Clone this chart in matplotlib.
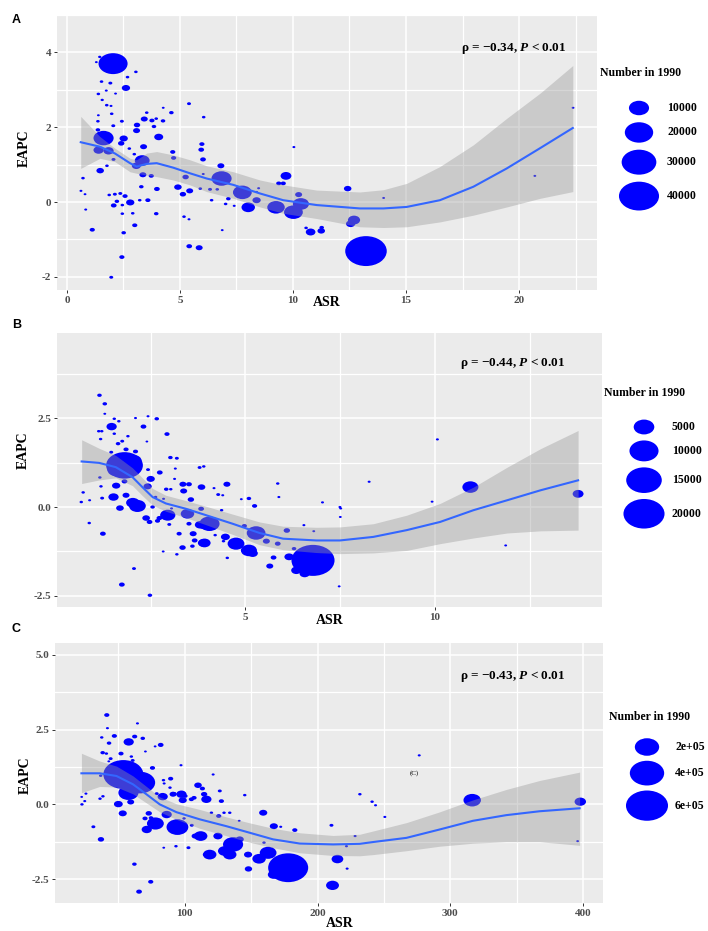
import numpy as np
import matplotlib
matplotlib.use("Agg")
import matplotlib.pyplot as plt
from matplotlib.path import Path
from matplotlib.transforms import Affine2D

plt.rcParams['mathtext.fontset'] = 'custom'
plt.rcParams['mathtext.it'] = 'Liberation Serif:bold:italic'
plt.rcParams['mathtext.rm'] = 'Liberation Serif:bold'

# ---------------- Panel A data ----------------
a_asr = [2.04,1.45,1.30,3.05,2.68,1.53,1.92,2.61,1.74,1.39,
         2.15,1.56,1.76,1.95,5.40,4.26,1.39,1.98,3.53,4.62,
         6.05,1.37,2.43,3.42,3.76,3.95,4.25,3.10,2.05,1.37,
         3.08,3.85,4.06,1.62,2.51,2.40,3.39,2.76,1.40,1.84,
         4.68,5.97,5.94,6.02,2.06,2.98,3.33,3.07,4.72,1.47,
         1.77,3.36,3.73,5.25,0.71,0.62,0.80,3.29,3.98,4.91,
         5.13,5.43,5.90,1.87,2.12,2.36,2.57,2.21,2.80,3.22,
         3.58,2.45,2.07,0.83,2.91,3.95,2.45,3.00,5.18,5.40,
         1.12,2.51,5.41,5.85,2.43,1.96,10.04,6.81,6.84,7.76,
         8.39,8.02,7.14,6.40,9.69,9.37,9.57,9.25,10.02,10.35,
         10.25,12.42,10.78,11.25,11.27,6.87,12.70,12.55,13.23,14.01,
         20.7,22.39,7.02,7.40,6.33,6.65,8.48,8.39,10.58,6.03]
a_eapc = [3.70,3.88,3.74,3.48,3.34,3.22,3.18,3.05,2.98,2.89,
          2.90,2.73,2.59,2.57,2.63,2.52,2.32,2.36,2.39,2.39,
          2.27,2.16,2.16,2.22,2.18,2.23,2.17,2.06,2.04,1.93,
          1.91,2.02,1.74,1.71,1.70,1.57,1.48,1.43,1.39,1.37,
          1.34,1.55,1.40,1.14,1.14,1.28,1.11,0.97,1.18,0.84,
          0.97,0.73,0.70,0.67,0.64,0.30,0.21,0.41,0.35,0.40,
          0.21,0.30,0.36,0.19,0.21,0.23,0.16,0.02,-0.01,0.05,
          0.05,-0.08,-0.09,-0.20,-0.30,-0.31,-0.31,-0.62,-0.39,-0.46,
          -0.74,-0.82,-1.18,-1.22,-1.47,-2.01,1.47,0.97,0.63,0.26,
          0.05,-0.14,0.09,0.05,0.70,0.50,0.50,-0.14,-0.27,-0.05,
          0.20,0.36,-0.80,-0.77,-0.68,-0.75,-0.48,-0.58,-1.31,0.11,
          0.70,2.52,-0.05,-0.10,0.34,0.34,0.37,0.27,-0.69,0.75]
a_num = [21000,150,80,200,200,200,280,1600,100,200,
         80,150,200,100,280,80,80,200,200,400,
         200,200,280,1100,550,200,400,900,280,400,
         1100,400,1900,10000,1600,900,1100,200,2500,2500,
         550,550,700,700,280,200,5400,1900,550,1300,
         200,1100,550,900,200,100,80,400,700,1300,
         900,1100,200,200,280,280,550,400,1600,200,
         550,200,700,100,200,400,200,550,200,100,
         550,400,700,1100,550,280,100,1100,10000,8700,
         1600,4400,400,200,2800,550,550,7500,8700,6400,
         1100,1300,2200,1300,400,80,3600,2000,43000,80,
         80,80,200,100,280,200,100,100,200,100]
a_fit_x = [0.61,1.46,2.12,2.79,3.08,3.53,3.97,4.70,5.44,6.18,7.36,8.54,9.57,11.05,12.96,14.0,15.03,16.5,17.98,19.46,20.93,22.38]
a_fit = [1.60,1.48,1.30,1.04,0.95,1.02,1.04,0.92,0.77,0.63,0.46,0.23,0.05,-0.08,-0.17,-0.17,-0.13,0.05,0.41,0.90,1.44,1.98]
a_hi = [2.29,1.75,1.44,1.17,1.13,1.31,1.35,1.26,1.13,0.97,0.81,0.59,0.46,0.32,0.27,0.33,0.50,0.95,1.53,2.24,2.91,3.65]
a_lo = [0.90,1.17,1.08,0.81,0.77,0.72,0.68,0.59,0.46,0.28,0.10,-0.13,-0.30,-0.44,-0.66,-0.68,-0.66,-0.53,-0.35,-0.13,0.10,0.28]
a_legend_vals = [10000, 20000, 30000, 40000]
a_legend_labels = ["10000", "20000", "30000", "40000"]
a_xticks = [0, 5, 10, 15, 20]
a_yticks = [-2, 0, 2, 4]
a_ylabels = ["-2", "0", "2", "4"]
a_text = "ρ = −0.34, $P$ < 0.01"

# ---------------- Panel B data ----------------
b_asr = [1.15,1.29,1.29,1.54,1.66,2.10,2.43,2.66,1.47,2.31,
         1.13,1.21,1.54,1.90,1.18,2.93,1.75,1.64,2.40,1.85,
         2.10,1.46,1.81,1.60,2.05,3.02,3.19,3.79,3.90,3.15,
         2.43,2.74,2.50,1.16,3.13,1.81,2.42,1.59,1.19,2.91,
         3.03,3.35,3.51,3.84,3.37,0.72,0.67,0.89,1.22,1.52,
         1.85,2.03,2.15,2.63,2.84,1.69,2.55,3.56,3.05,2.95,
         3.47,2.73,2.38,2.47,2.99,2.68,3.88,3.51,0.88,1.24,
         3.25,3.62,3.66,3.88,3.60,3.34,3.19,2.83,2.06,1.74,
         2.48,4.17,4.51,4.28,4.40,4.89,5.09,5.24,5.85,5.88,
         7.03,7.51,7.50,3.83,4.37,4.05,3.80,4.97,5.28,5.55,
         5.85,6.09,6.54,6.80,3.92,4.47,4.75,5.09,5.19,4.52,
         5.74,5.64,6.15,6.78,6.34,6.56,6.28,7.47,10.06,8.26,
         10.93,13.77,9.92,11.86,7.49,4.20,4.42]
b_eapc = [3.14,2.90,2.62,2.48,2.41,2.50,2.55,2.48,2.26,2.26,
          2.13,2.13,2.06,1.99,1.91,2.05,1.85,1.78,1.84,1.62,
          1.56,1.54,1.17,1.05,1.30,1.39,1.37,1.11,1.14,1.08,
          1.05,0.97,0.79,0.83,0.79,0.72,0.58,0.60,0.58,0.50,
          0.50,0.64,0.64,0.56,0.45,0.41,0.14,0.19,0.25,0.28,
          0.33,0.12,0.03,0.28,0.23,-0.03,0.00,0.21,-0.04,-0.23,
          -0.19,-0.31,-0.31,-0.42,-0.49,-0.39,-0.54,-0.47,-0.45,-0.75,
          -0.75,-0.75,-0.94,-1.01,-1.10,-1.14,-1.33,-1.25,-1.73,-2.18,
          -2.48,0.53,0.64,0.35,0.33,0.22,0.24,0.03,0.66,0.28,
          0.13,-0.04,-0.28,-0.05,-0.09,-0.47,-0.50,-0.53,-0.73,-0.96,
          -1.03,-0.66,-0.51,-0.68,-1.01,-0.84,-1.03,-1.22,-1.30,-1.43,
          -1.42,-1.66,-1.40,-1.50,-1.78,-1.87,-1.17,-2.23,1.90,0.71,
          0.56,0.37,0.15,-1.08,0.00,-0.79,-0.96]
b_num = [190,190,40,85,85,50,50,190,1200,340,
         85,85,85,85,85,260,130,190,30,260,
         260,130,16000,4000,3000,190,130,130,85,50,
         130,340,760,85,50,340,760,760,85,190,
         85,530,340,640,530,85,85,50,130,1200,
         530,2100,3300,85,50,640,190,430,50,2700,
         2100,340,640,340,130,260,640,260,85,340,
         260,530,340,1200,190,430,85,40,130,340,
         190,50,530,130,50,40,190,260,85,50,
         50,50,40,340,85,4800,1200,260,4100,530,
         340,430,50,40,1700,900,3300,3000,1200,85,
         340,530,1000,22000,1200,1200,190,40,50,50,
         3000,1350,40,40,50,85,85]
b_fit_x = [0.68,1.14,1.58,2.02,2.28,2.55,2.90,3.43,3.96,4.66,5.37,5.99,6.87,7.49,8.37,9.25,10.13,11.01,11.90,12.78,13.77]
b_fit = [1.28,1.24,1.12,0.84,0.56,0.28,0.10,-0.05,-0.23,-0.47,-0.73,-0.89,-0.94,-0.94,-0.84,-0.65,-0.42,-0.09,0.19,0.47,0.75]
b_hi = [1.89,1.65,1.45,1.10,0.82,0.52,0.33,0.18,0.02,-0.20,-0.42,-0.54,-0.57,-0.56,-0.47,-0.23,0.10,0.56,1.12,1.64,2.15]
b_lo = [0.66,0.76,0.82,0.60,0.32,0.05,-0.12,-0.30,-0.50,-0.77,-1.06,-1.20,-1.28,-1.31,-1.29,-1.22,-1.03,-0.87,-0.73,-0.67,-0.65]
b_legend_vals = [5000, 10000, 15000, 20000]
b_legend_labels = ["5000", "10000", "15000", "20000"]
b_xticks = [5, 10]
b_yticks = [-2.5, 0.0, 2.5]
b_ylabels = ["-2.5", "0.0", "2.5"]
b_text = "ρ = −0.44, $P$ < 0.01"

# ---------------- Panel C data ----------------
c_asr = [41.3,41.8,64.4,37.5,47.0,62.3,68.4,43.0,57.8,81.9,
         77.7,70.4,38.2,41.0,52.0,59.8,60.8,44.2,42.8,97.2,
         75.7,53.8,66.4,57.6,89.4,84.0,84.5,36.7,25.6,22.4,
         22.6,24.7,38.4,36.2,78.9,83.4,91.9,98.5,100.2,105.0,
         88.9,110.0,113.3,114.6,50.0,53.3,59.3,72.9,74.6,77.9,
         71.4,70.1,86.4,94.5,99.5,105.3,112.0,107.8,115.3,102.8,
         93.4,84.2,31.2,36.9,62.1,74.4,65.6,121.4,116.3,118.8,
         97.5,91.2,107.0,126.4,127.6,125.6,120.1,129.6,133.9,145.2,
         141.0,130.1,125.0,136.4,133.9,141.4,147.7,156.0,162.8,148.0,
         177.9,167.0,167.1,159.1,159.7,172.3,182.9,210.5,215.0,211.3,
         221.8,222.3,231.9,241.1,243.7,250.7,228.3,276.6,316.5,397.9,
         395.9]
c_eapc = [2.99,2.55,2.71,2.24,2.29,2.27,2.21,2.05,2.09,1.99,
          1.94,1.77,1.73,1.70,1.70,1.60,1.47,1.53,1.44,1.31,
          1.22,1.00,0.73,0.39,0.86,0.81,0.70,0.96,0.36,0.25,
          0.00,0.11,0.27,0.19,0.36,0.26,0.35,0.14,0.28,0.17,
          0.56,0.64,0.53,0.34,0.01,-0.30,0.08,-0.30,-0.45,-0.64,
          -0.84,-0.47,-0.34,-0.76,-0.47,-0.70,-1.06,-1.06,-1.68,-1.45,
          -1.40,-1.45,-0.75,-1.17,-2.00,-2.59,-2.92,1.00,0.17,-1.68,
          0.34,0.34,0.22,0.45,0.11,-0.39,-0.28,-0.28,-0.28,0.31,
          -0.55,-1.56,-1.06,-1.34,-1.68,-1.17,-1.68,-1.82,-1.62,-2.16,
          -2.12,-2.35,-0.73,-0.28,-1.28,-0.75,-0.86,-0.70,-1.83,-2.71,
          -1.40,-2.15,0.34,0.09,-0.03,-0.42,-1.06,1.64,0.14,0.09,
          -1.23]
c_num = [7500,1500,1500,2400,7500,7500,5400,5400,34000,9600,
         1000,1000,5400,2400,7500,2400,3800,3800,1000,1500,
         7500,544000,306000,136000,7500,2400,1500,2400,1500,1000,
         2400,1500,2400,2400,3800,34000,7500,21000,7500,7500,
         2400,18000,7500,12000,25000,21000,15000,12000,5400,95000,
         34000,7500,34000,160000,2400,3800,60000,15000,5400,3800,
         2400,1000,3800,12000,5400,7500,9600,1500,34000,60000,
         34000,15000,7500,3800,7500,7500,2400,2400,2400,2400,
         1000,60000,27000,136000,60000,21000,21000,60000,94000,17000,
         544000,45000,21000,21000,2400,1500,7500,3800,45000,55000,
         1500,1500,2400,2400,1500,1500,1500,1500,102000,43000,
         1000]
c_fit_x = [22.2,36,48.6,61.1,71.1,81.2,93.7,111.3,131.4,149,166.5,186.6,211.7,231.8,241.9,267,292,317,342.2,367.3,397.4]
c_fit = [1.04,1.04,0.95,0.67,0.34,0.0,-0.26,-0.50,-0.73,-0.95,-1.17,-1.31,-1.34,-1.32,-1.26,-1.12,-0.84,-0.55,-0.36,-0.23,-0.13]
c_hi = [1.71,1.45,1.28,0.95,0.60,0.25,0.02,-0.17,-0.42,-0.62,-0.80,-0.95,-1.04,-1.00,-0.89,-0.61,-0.25,0.15,0.50,0.80,1.08]
c_lo = [0.39,0.60,0.58,0.35,0.05,-0.25,-0.50,-0.80,-1.05,-1.27,-1.45,-1.62,-1.71,-1.72,-1.68,-1.55,-1.40,-1.30,-1.25,-1.25,-1.37]
c_legend_vals = [200000, 400000, 600000]
c_legend_labels = ["2e+05", "4e+05", "6e+05"]
c_xticks = [100, 200, 300, 400]
c_yticks = [-2.5, 0.0, 2.5, 5.0]
c_ylabels = ["-2.5", "0.0", "2.5", "5.0"]
c_text = "ρ = −0.43, $P$ < 0.01"
c_stray = "(C)"

# ---------------- drawing ----------------
DPI = 100
FW, FH = 708, 931
BLUE = '#0000ff'
SERIF = 'Liberation Serif'
ASPECT = 0.72
ELL = Path.unit_circle().transformed(Affine2D().scale(1.0, ASPECT))


def width_px(v, k):
    return np.sqrt(2.2 ** 2 + (k ** 2) * np.asarray(v, dtype=float))


def s_of(w):
    return (np.asarray(w) * 72.0 / DPI) ** 2


def frac(px_l, px_t, px_w, px_h):
    return [px_l / FW, 1 - (px_t + px_h) / FH, px_w / FW, px_h / FH]


fig = plt.figure(figsize=(FW / DPI, FH / DPI), dpi=DPI)
fig.patch.set_facecolor('white')


def panel(rect, xs, ys, ns, k, fx, fy, hi, lo, xlim, ylim, xt, xmin, yt, ylab, ymin,
          txt, txtpos, xlabpos, ylabpos):
    ax = fig.add_axes(rect)
    ax.set_facecolor('#ebebeb')
    for sp in ax.spines.values():
        sp.set_visible(False)
    ax.set_xlim(*xlim)
    ax.set_ylim(*ylim)
    ax.set_xticks(xt)
    ax.set_xticks(xmin, minor=True)
    ax.set_yticks(yt)
    ax.set_yticks(ymin, minor=True)
    ax.set_xticklabels([str(t) for t in xt], fontfamily=SERIF, fontweight='bold')
    ax.set_yticklabels(ylab, fontfamily=SERIF, fontweight='bold')
    ax.grid(True, which='major', color='white', lw=1.1)
    ax.grid(True, which='minor', color='white', lw=0.9)
    ax.set_axisbelow(True)
    ax.tick_params(which='minor', length=0)
    ax.tick_params(which='major', length=2.5, width=0.7, color='#333333',
                   labelcolor='#4d4d4d', labelsize=8, pad=1.5)
    ax.scatter(xs, ys, s=s_of(width_px(ns, k)), marker=ELL, c=BLUE,
               linewidths=0, zorder=2)
    ax.fill_between(fx, lo, hi, color='#999999', alpha=0.4, lw=0, zorder=3)
    ax.plot(fx, fy, color='#3366ff', lw=1.5, zorder=4)
    ax.text(txtpos[0], txtpos[1], txt, transform=ax.transAxes, ha='center',
            va='center', fontfamily=SERIF, fontweight='bold', fontsize=9.5, zorder=5)
    ax.set_xlabel('ASR', fontfamily=SERIF, fontweight='bold', fontsize=10, va='center')
    ax.xaxis.set_label_coords(*xlabpos)
    ax.set_ylabel('EAPC', fontfamily=SERIF, fontweight='bold', fontsize=10, va='center')
    ax.yaxis.set_label_coords(*ylabpos)
    return ax


axA = panel(frac(57, 15, 540, 275), a_asr, a_eapc, a_num, 0.2,
            a_fit_x, a_fit, a_hi, a_lo, (-0.44, 23.45), (-2.35, 5.0),
            a_xticks, [2.5, 7.5, 12.5, 17.5, 22.5], a_yticks, a_ylabels, [-1, 1, 3, 5],
            a_text, (0.845, 0.88), (0.5, -0.044), (-0.061, 0.516))

axB = panel(frac(57, 333, 545, 274), b_asr, b_eapc, b_num, 0.29,
            b_fit_x, b_fit, b_hi, b_lo, (0.03, 14.4), (-2.81, 4.89),
            b_xticks, [2.5, 7.5, 12.5], b_yticks, b_ylabels, [-1.25, 1.25, 3.75],
            b_text, (0.837, 0.89), (0.5, -0.051), (-0.061, 0.573))

axC = panel(frac(55, 643, 548, 260), c_asr, c_eapc, c_num, 0.0542,
            c_fit_x, c_fit, c_hi, c_lo, (2.3, 415), (-3.3, 5.4),
            c_xticks, [50, 150, 250, 350], c_yticks, c_ylabels, [-1.25, 1.25, 3.75],
            c_text, (0.836, 0.873), (0.52, -0.077), (-0.055, 0.49))
axC.text(273, 1.04, c_stray, fontfamily=SERIF, fontsize=5, ha='center', va='center', zorder=5)

# ---------------- legends (pixel-layout overlay axes) ----------------
lg = fig.add_axes([0, 0, 1, 1], zorder=10)
lg.set_xlim(0, FW)
lg.set_ylim(FH, 0)
lg.axis('off')


def legend(vals, labels, k, title_xy, key_x, label_x, first_y, gap):
    lg.text(title_xy[0], title_xy[1], 'Number in 1990', fontfamily=SERIF,
            fontweight='bold', fontsize=8.5, ha='left', va='center')
    w = width_px(vals, k)
    h = w * ASPECT
    ys = [first_y]
    for i in range(1, len(vals)):
        ys.append(ys[-1] + (h[i - 1] + h[i]) / 2 + gap)
    lg.scatter([key_x] * len(vals), ys, s=s_of(w), marker=ELL, c=BLUE, linewidths=0)
    for y, lab in zip(ys, labels):
        lg.text(label_x, y, lab, fontfamily=SERIF, fontweight='bold', fontsize=8.5,
                ha='left', va='center')


legend(a_legend_vals, a_legend_labels, 0.2, (600, 73), 639, 667, 108, 7)
legend(b_legend_vals, b_legend_labels, 0.29, (604, 393), 644, 672, 427, 6)
legend(c_legend_vals, c_legend_labels, 0.0542, (609, 717), 647, 675, 747, 5)

for lab, (x, y) in zip(['A', 'B', 'C'], [(12, 20), (12, 325), (12, 629)]):
    fig.text(x / FW, 1 - y / FH, lab, fontfamily='Liberation Sans', fontweight='bold',
             fontsize=9, ha='left', va='center')

fig.savefig('out.png', dpi=DPI, facecolor='white')
